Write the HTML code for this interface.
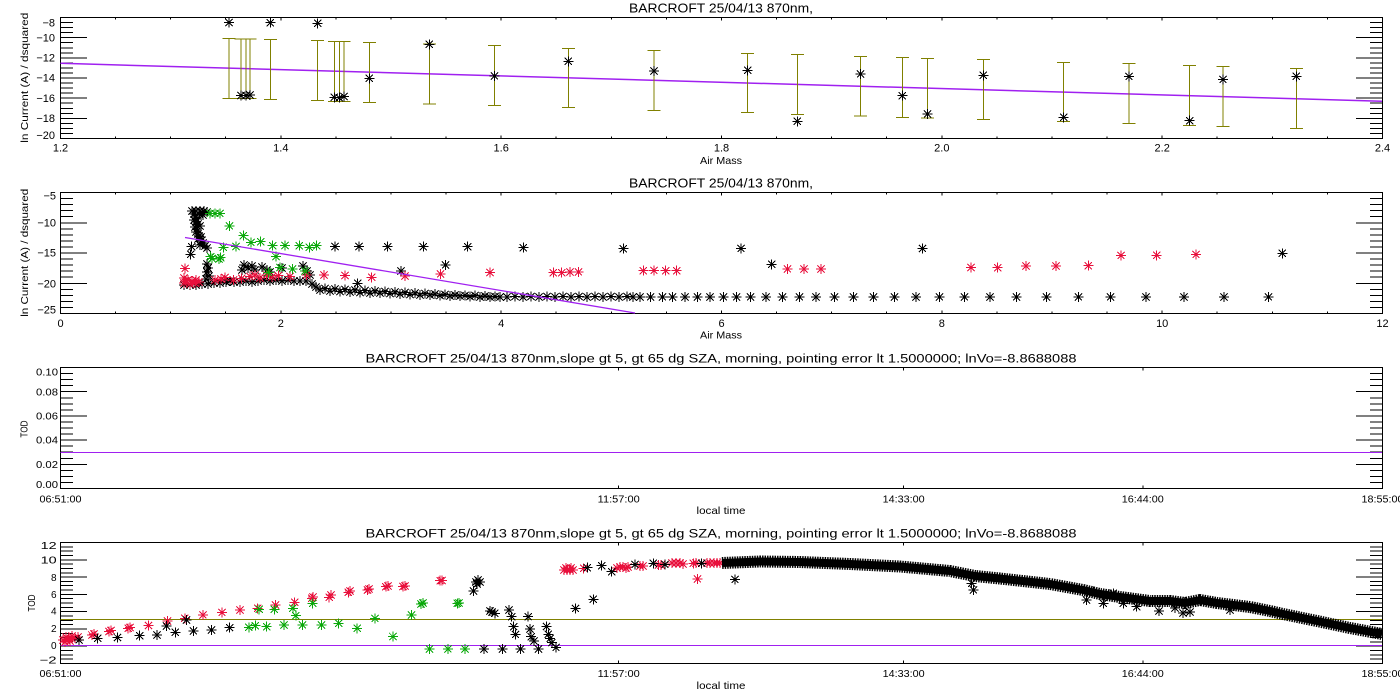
<!DOCTYPE html>
<html><head><meta charset="utf-8"><style>html,body{margin:0;padding:0;background:#fff;width:1400px;height:700px;overflow:hidden}svg{display:block}</style></head><body>
<svg width="1400" height="700" viewBox="0 0 1400 700" xmlns="http://www.w3.org/2000/svg" xmlns:xlink="http://www.w3.org/1999/xlink" font-family="'Liberation Sans', sans-serif">
<defs>
<path id="s" fill="none" d="M-5 0H5M0-5V5M-3.6-3.6L3.6 3.6M-3.6 3.6L3.6-3.6"/>
<path id="xt" d="M115.6 0.5v2M170.7 0.5v2M225.7 0.5v2M280.8 0.5v3M335.9 0.5v2M391 0.5v2M446.1 0.5v2M501.2 0.5v3M556.2 0.5v2M611.3 0.5v2M666.4 0.5v2M721.5 0.5v3M776.6 0.5v2M831.7 0.5v2M886.7 0.5v2M941.8 0.5v3M996.9 0.5v2M1052 0.5v2M1107.1 0.5v2M1162.2 0.5v3M1217.2 0.5v2M1272.3 0.5v2M1327.4 0.5v2M115.6 121.5v-2M170.7 121.5v-2M225.7 121.5v-2M280.8 121.5v-3M335.9 121.5v-2M391 121.5v-2M446.1 121.5v-2M501.2 121.5v-3M556.2 121.5v-2M611.3 121.5v-2M666.4 121.5v-2M721.5 121.5v-3M776.6 121.5v-2M831.7 121.5v-2M886.7 121.5v-2M941.8 121.5v-3M996.9 121.5v-2M1052 121.5v-2M1107.1 121.5v-2M1162.2 121.5v-3M1217.2 121.5v-2M1272.3 121.5v-2M1327.4 121.5v-2"/>
<path id="yt1" d="M60 22.5h13M60 27.6h13M60 32.6h13M60 37.7h27M60 42.7h13M60 47.8h13M60 52.8h13M60 57.8h27M60 62.9h13M60 67.9h13M60 73h13M60 78h27M60 83h13M60 88.1h13M60 93.1h13M60 98.2h27M60 103.2h13M60 108.3h13M60 113.3h13M60 118.3h27M60 123.4h13M60 128.4h13M60 133.5h13"/>
<path id="yt2" d="M60 198.6h13M60 204.6h13M60 210.7h13M60 216.7h13M60 222.8h27M60 228.8h13M60 234.9h13M60 240.9h13M60 247h13M60 253h27M60 259.1h13M60 265.1h13M60 271.2h13M60 277.2h13M60 283.3h27M60 289.3h13M60 295.4h13M60 301.4h13M60 307.5h13"/>
<path id="yt3" d="M60 373.6h13M60 379.6h13M60 385.7h13M60 391.7h27M60 397.8h13M60 403.8h13M60 409.9h13M60 415.9h27M60 422h13M60 428h13M60 434.1h13M60 440.1h27M60 446.2h13M60 452.2h13M60 458.3h13M60 464.3h27M60 470.4h13M60 476.4h13M60 482.5h13"/>
<path id="yt4" d="M60 546.8h13M60 551.1h13M60 555.5h13M60 559.8h27M60 564.1h13M60 568.4h13M60 572.8h13M60 577.1h27M60 581.4h13M60 585.7h13M60 590h13M60 594.4h27M60 598.7h13M60 603h13M60 607.3h13M60 611.6h27M60 616h13M60 620.3h13M60 624.6h13M60 628.9h27M60 633.3h13M60 637.6h13M60 641.9h13M60 646.2h27M60 650.5h13M60 654.9h13M60 659.2h13"/>
</defs>

<!-- AXES -->
<g stroke="#000" stroke-width="1" fill="none" shape-rendering="crispEdges">
<rect x="60.5" y="17.5" width="1322" height="121"/>
<rect x="60.5" y="192.5" width="1322" height="121"/>
<rect x="60.5" y="367.5" width="1322" height="121"/>
<rect x="60.5" y="542.5" width="1322" height="121"/>
<use href="#xt" y="17"/>
<use href="#xt" y="192"/>
<use href="#yt1"/><use href="#yt1" transform="translate(1443 0) scale(-1 1)"/>
<use href="#yt2"/><use href="#yt2" transform="translate(1443 0) scale(-1 1)"/>
<use href="#yt3"/><use href="#yt3" transform="translate(1443 0) scale(-1 1)"/>
<use href="#yt4"/><use href="#yt4" transform="translate(1443 0) scale(-1 1)"/>
<path d="M618.7 367.5v3M903.6 367.5v3M1142.8 367.5v3M618.7 488.5v-3M903.6 488.5v-3M1142.8 488.5v-3M618.7 542.5v3M903.6 542.5v3M1142.8 542.5v3M618.7 663.5v-3M903.6 663.5v-3M1142.8 663.5v-3"/>
</g>

<!-- TEXT -->
<g fill="#000">
<text x="721" y="12.3" font-size="12.5" text-anchor="middle" textLength="184" lengthAdjust="spacingAndGlyphs">BARCROFT 25/04/13 870nm,</text>
<text x="721" y="187.3" font-size="12.5" text-anchor="middle" textLength="184" lengthAdjust="spacingAndGlyphs">BARCROFT 25/04/13 870nm,</text>
<text x="721" y="362.5" font-size="11.5" text-anchor="middle" textLength="711" lengthAdjust="spacingAndGlyphs">BARCROFT 25/04/13 870nm,slope gt 5, gt 65 dg SZA, morning, pointing error lt 1.5000000; lnVo=-8.8688088</text>
<text x="721" y="537.5" font-size="11.5" text-anchor="middle" textLength="711" lengthAdjust="spacingAndGlyphs">BARCROFT 25/04/13 870nm,slope gt 5, gt 65 dg SZA, morning, pointing error lt 1.5000000; lnVo=-8.8688088</text>

<g font-size="11" text-anchor="end">
<text x="55" y="26.5">−8</text><text x="55" y="41.5">−10</text><text x="55" y="61.5">−12</text><text x="55" y="81.5">−14</text><text x="55" y="102">−16</text><text x="55" y="122">−18</text><text x="55" y="139">−20</text>
<text x="56" y="199.5">−5</text><text x="56" y="226.5">−10</text><text x="56" y="256.5">−15</text><text x="56" y="287.5">−20</text><text x="56" y="313.5">−25</text>
</g>
<g font-size="11" text-anchor="middle">
<text x="60.5" y="151.5">1.2</text><text x="280.8" y="151.5">1.4</text><text x="501.2" y="151.5">1.6</text><text x="721.5" y="151.5">1.8</text><text x="941.8" y="151.5">2.0</text><text x="1162.2" y="151.5">2.2</text><text x="1382.5" y="151.5">2.4</text>
<text x="60.5" y="327">0</text><text x="280.8" y="327">2</text><text x="501.2" y="327">4</text><text x="721.5" y="327">6</text><text x="941.8" y="327">8</text><text x="1162.2" y="327">10</text><text x="1382.5" y="327">12</text>
</g>
<g font-size="10.5" text-anchor="middle">
<text x="721" y="164" textLength="42" lengthAdjust="spacingAndGlyphs">Air Mass</text>
<text x="721" y="338.5" textLength="42" lengthAdjust="spacingAndGlyphs">Air Mass</text>
<text x="721" y="514" textLength="49" lengthAdjust="spacingAndGlyphs">local time</text>
<text x="721" y="689" textLength="49" lengthAdjust="spacingAndGlyphs">local time</text>
</g>
<g font-size="10" text-anchor="middle">
<text transform="translate(28 77.7) rotate(-90)" textLength="130" lengthAdjust="spacingAndGlyphs">ln Current (A) / dsquared</text>
<text transform="translate(28 252.8) rotate(-90)" textLength="128" lengthAdjust="spacingAndGlyphs">ln Current (A) / dsquared</text>
<text transform="translate(27.5 429) rotate(-90)" textLength="17" lengthAdjust="spacingAndGlyphs">TOD</text>
<text transform="translate(35 603) rotate(-90)" textLength="17" lengthAdjust="spacingAndGlyphs">TOD</text>
</g>
<g font-size="10" text-anchor="end">
<text x="58" y="375.5" textLength="22" lengthAdjust="spacingAndGlyphs">0.10</text>
<text x="58" y="395.5" textLength="22" lengthAdjust="spacingAndGlyphs">0.08</text>
<text x="58" y="419.5" textLength="22" lengthAdjust="spacingAndGlyphs">0.06</text>
<text x="58" y="443.5" textLength="22" lengthAdjust="spacingAndGlyphs">0.04</text>
<text x="58" y="468" textLength="22" lengthAdjust="spacingAndGlyphs">0.02</text>
<text x="58" y="488" textLength="22" lengthAdjust="spacingAndGlyphs">0.00</text>
<text x="56.6" y="549" textLength="16" lengthAdjust="spacingAndGlyphs">12</text>
<text x="56.6" y="563.5" textLength="16" lengthAdjust="spacingAndGlyphs">10</text>
<text x="56.6" y="581">8</text>
<text x="56.6" y="598">6</text>
<text x="56.6" y="614.5">4</text>
<text x="56.6" y="632">2</text>
<text x="56.6" y="649">0</text>
<text x="56.6" y="663.5" textLength="17" lengthAdjust="spacingAndGlyphs">−2</text>
</g>
<g font-size="10" text-anchor="middle">
<text x="60.5" y="502.5" textLength="42" lengthAdjust="spacingAndGlyphs">06:51:00</text>
<text x="618.7" y="502.5" textLength="42" lengthAdjust="spacingAndGlyphs">11:57:00</text>
<text x="903.6" y="502.5" textLength="42" lengthAdjust="spacingAndGlyphs">14:33:00</text>
<text x="1142.8" y="502.5" textLength="42" lengthAdjust="spacingAndGlyphs">16:44:00</text>
<text x="1382.5" y="502.5" textLength="42" lengthAdjust="spacingAndGlyphs">18:55:00</text>
<text x="60.5" y="677" textLength="42" lengthAdjust="spacingAndGlyphs">06:51:00</text>
<text x="618.7" y="677" textLength="42" lengthAdjust="spacingAndGlyphs">11:57:00</text>
<text x="903.6" y="677" textLength="42" lengthAdjust="spacingAndGlyphs">14:33:00</text>
<text x="1142.8" y="677" textLength="42" lengthAdjust="spacingAndGlyphs">16:44:00</text>
<text x="1382.5" y="677" textLength="42" lengthAdjust="spacingAndGlyphs">18:55:00</text>
</g>
</g>

<!-- PANEL 1 -->
<path d="M60.5 63.3L1382 101.2" stroke="#a020f0" stroke-width="1.5" fill="none"/>
<path stroke="#808000" stroke-width="1" fill="none" shape-rendering="crispEdges" d="M229 38.3V98.3M222.5 38.3h13M222.5 98.3h13M241 39V98.5M234.5 39h13M234.5 98.5h13M246 39V98.5M239.5 39h13M239.5 98.5h13M250 39V98.5M243.5 39h13M243.5 98.5h13M270.3 39.3V99.3M263.8 39.3h13M263.8 99.3h13M317.7 40.3V100.3M311.2 40.3h13M311.2 100.3h13M334.3 41.3V101.3M327.8 41.3h13M327.8 101.3h13M339.3 41.3V101.3M332.8 41.3h13M332.8 101.3h13M344 41.3V101.3M337.5 41.3h13M337.5 101.3h13M369.3 42.3V102.3M362.8 42.3h13M362.8 102.3h13M429.3 44V104M422.8 44h13M422.8 104h13M494.3 45.3V105.3M487.8 45.3h13M487.8 105.3h13M568.3 48.3V107.3M561.8 48.3h13M561.8 107.3h13M654 50.7V110.3M647.5 50.7h13M647.5 110.3h13M747.7 53.3V112.3M741.2 53.3h13M741.2 112.3h13M797.3 54.3V114.3M790.8 54.3h13M790.8 114.3h13M860.7 56.3V116M854.2 56.3h13M854.2 116h13M902.3 57.5V117.3M895.8 57.5h13M895.8 117.3h13M927.7 58.3V117.8M921.2 58.3h13M921.2 117.8h13M983.3 59.3V119.3M976.8 59.3h13M976.8 119.3h13M1063.7 62.3V121.3M1057.2 62.3h13M1057.2 121.3h13M1129 63.3V123.3M1122.5 63.3h13M1122.5 123.3h13M1189.7 65.3V125.3M1183.2 65.3h13M1183.2 125.3h13M1223 66.3V126.3M1216.5 66.3h13M1216.5 126.3h13M1296.3 68.3V128.3M1289.8 68.3h13M1289.8 128.3h13"/>
<g stroke="#000" stroke-width="1" fill="none" shape-rendering="crispEdges">
<use href="#s" x="229" y="22.7"/><use href="#s" x="241" y="95.7"/><use href="#s" x="246" y="95.7"/><use href="#s" x="250" y="95"/><use href="#s" x="270.3" y="22.7"/><use href="#s" x="317.7" y="23.3"/><use href="#s" x="334.3" y="97.3"/><use href="#s" x="339.3" y="97.7"/><use href="#s" x="344" y="96.7"/><use href="#s" x="369.3" y="78.3"/><use href="#s" x="429.3" y="44.3"/><use href="#s" x="494.3" y="76"/><use href="#s" x="568.3" y="61.3"/><use href="#s" x="654" y="71"/><use href="#s" x="747.7" y="70.3"/><use href="#s" x="797.3" y="121.3"/><use href="#s" x="860.7" y="74"/><use href="#s" x="902.3" y="95.7"/><use href="#s" x="927.7" y="114"/><use href="#s" x="983.3" y="75.3"/><use href="#s" x="1063.7" y="117.3"/><use href="#s" x="1129" y="76.3"/><use href="#s" x="1189.7" y="120.7"/><use href="#s" x="1223" y="79.3"/><use href="#s" x="1296.3" y="76.3"/>
</g>

<!-- PANEL 2 -->
<g stroke="#000" stroke-width="1" fill="none" shape-rendering="crispEdges">
<use href="#s" x="192" y="211"/><use href="#s" x="196" y="211"/><use href="#s" x="200" y="211"/><use href="#s" x="204" y="211"/><use href="#s" x="207" y="212"/><use href="#s" x="194" y="214"/><use href="#s" x="199" y="214"/><use href="#s" x="203" y="215"/><use href="#s" x="195" y="217"/><use href="#s" x="197" y="219"/><use href="#s" x="194" y="220"/><use href="#s" x="196" y="222"/><use href="#s" x="198" y="224"/><use href="#s" x="200" y="226"/><use href="#s" x="195" y="227"/><use href="#s" x="197" y="229"/><use href="#s" x="196" y="232"/><use href="#s" x="198" y="234"/><use href="#s" x="199" y="236"/><use href="#s" x="201" y="237"/><use href="#s" x="198" y="239"/><use href="#s" x="201" y="241"/><use href="#s" x="203" y="243"/><use href="#s" x="200" y="245"/><use href="#s" x="205" y="246"/><use href="#s" x="207" y="248"/>
<use href="#s" x="191.7" y="246.7"/><use href="#s" x="190.7" y="254.3"/>
<use href="#s" x="207" y="264"/><use href="#s" x="208" y="268"/><use href="#s" x="207" y="272"/><use href="#s" x="209" y="276"/><use href="#s" x="206" y="279"/>
<use href="#s" x="184" y="285"/><use href="#s" x="190" y="285"/><use href="#s" x="196" y="285"/><use href="#s" x="202" y="284"/><use href="#s" x="208" y="284"/><use href="#s" x="214" y="283"/><use href="#s" x="220" y="283"/><use href="#s" x="226" y="282"/><use href="#s" x="230" y="281"/>
<use href="#s" x="244" y="265"/><use href="#s" x="248" y="268"/><use href="#s" x="252" y="266"/><use href="#s" x="255" y="270"/><use href="#s" x="242" y="270"/><use href="#s" x="262" y="267"/><use href="#s" x="267" y="270"/><use href="#s" x="270" y="272"/><use href="#s" x="282" y="268"/><use href="#s" x="303" y="266"/><use href="#s" x="307" y="271"/><use href="#s" x="310" y="275"/>
<use href="#s" x="234" y="282"/><use href="#s" x="240" y="282"/><use href="#s" x="246" y="281"/><use href="#s" x="252" y="282"/><use href="#s" x="258" y="281"/><use href="#s" x="264" y="280"/><use href="#s" x="270" y="281"/><use href="#s" x="276" y="280"/><use href="#s" x="282" y="281"/><use href="#s" x="288" y="280"/><use href="#s" x="294" y="281"/><use href="#s" x="300" y="281"/><use href="#s" x="306" y="281"/><use href="#s" x="312" y="284"/>
<use href="#s" x="316" y="287"/><use href="#s" x="320" y="290"/><use href="#s" x="325" y="288.5"/><use href="#s" x="330" y="291"/><use href="#s" x="335" y="289"/><use href="#s" x="340" y="291.5"/><use href="#s" x="345" y="289.5"/><use href="#s" x="350" y="292"/><use href="#s" x="355" y="290"/><use href="#s" x="360" y="292.5"/><use href="#s" x="365" y="290.5"/><use href="#s" x="370" y="293"/><use href="#s" x="375" y="291"/><use href="#s" x="380" y="293"/><use href="#s" x="385" y="291.5"/><use href="#s" x="390" y="293.5"/><use href="#s" x="395" y="292"/><use href="#s" x="400" y="294"/><use href="#s" x="405" y="292.5"/><use href="#s" x="410" y="294.5"/><use href="#s" x="415" y="293"/><use href="#s" x="420" y="295"/><use href="#s" x="425" y="293.5"/><use href="#s" x="430" y="295"/><use href="#s" x="435" y="294"/><use href="#s" x="440" y="295.5"/><use href="#s" x="445" y="294.5"/><use href="#s" x="450" y="296"/><use href="#s" x="455" y="295"/><use href="#s" x="460" y="296"/><use href="#s" x="465" y="295.5"/><use href="#s" x="470" y="296.5"/><use href="#s" x="475" y="295.5"/><use href="#s" x="480" y="297"/><use href="#s" x="485" y="296"/><use href="#s" x="490" y="297"/><use href="#s" x="495" y="296.5"/><use href="#s" x="500" y="297"/>
<use href="#s" x="507" y="297"/><use href="#s" x="515" y="296.5"/><use href="#s" x="523" y="297"/><use href="#s" x="531" y="296.5"/><use href="#s" x="539" y="297"/><use href="#s" x="547" y="296.5"/><use href="#s" x="555" y="297"/><use href="#s" x="563" y="296.5"/><use href="#s" x="571" y="297"/><use href="#s" x="579" y="296.5"/><use href="#s" x="587" y="297"/><use href="#s" x="595" y="296.5"/><use href="#s" x="603" y="297"/><use href="#s" x="611" y="296.5"/><use href="#s" x="619" y="297"/><use href="#s" x="627" y="296.5"/><use href="#s" x="633" y="297"/>
<use href="#s" x="640" y="297"/><use href="#s" x="650.7" y="297"/><use href="#s" x="662.3" y="297"/><use href="#s" x="672.7" y="297"/><use href="#s" x="685" y="297"/><use href="#s" x="697.3" y="297"/><use href="#s" x="710" y="297"/><use href="#s" x="723.3" y="297"/><use href="#s" x="736.7" y="297"/><use href="#s" x="750.7" y="297"/><use href="#s" x="766" y="297"/><use href="#s" x="782.3" y="297"/><use href="#s" x="799.3" y="297"/><use href="#s" x="816" y="297"/><use href="#s" x="834.3" y="297"/><use href="#s" x="853.3" y="297"/><use href="#s" x="873.3" y="297"/><use href="#s" x="894.3" y="297"/><use href="#s" x="916" y="297"/><use href="#s" x="939.3" y="297"/><use href="#s" x="964.3" y="297"/><use href="#s" x="990" y="297"/><use href="#s" x="1016.7" y="297"/><use href="#s" x="1046.7" y="297"/><use href="#s" x="1078.3" y="297"/><use href="#s" x="1110.7" y="297"/><use href="#s" x="1146" y="297"/><use href="#s" x="1184" y="297"/><use href="#s" x="1224" y="297"/><use href="#s" x="1268.3" y="297"/>
<use href="#s" x="335" y="246.7"/><use href="#s" x="359" y="246.7"/><use href="#s" x="387.7" y="246.7"/><use href="#s" x="423.3" y="246.7"/><use href="#s" x="467.7" y="246.7"/><use href="#s" x="523.3" y="247.7"/><use href="#s" x="623.3" y="248.7"/><use href="#s" x="741" y="248.3"/><use href="#s" x="922.3" y="248.5"/><use href="#s" x="1282.3" y="253.3"/>
<use href="#s" x="401" y="271"/><use href="#s" x="445.7" y="265"/><use href="#s" x="771.7" y="264.3"/><use href="#s" x="357.7" y="283.3"/>
</g>
<g stroke="#e8103c" stroke-width="1" fill="none" shape-rendering="crispEdges">
<use href="#s" x="185" y="268.3"/><use href="#s" x="184" y="278"/><use href="#s" x="188" y="280"/><use href="#s" x="192" y="281"/><use href="#s" x="196" y="280"/><use href="#s" x="184" y="283"/><use href="#s" x="190" y="284"/><use href="#s" x="195" y="283"/><use href="#s" x="186" y="281"/><use href="#s" x="199" y="282"/>
<use href="#s" x="215" y="280"/><use href="#s" x="221" y="279"/><use href="#s" x="225" y="277.7"/><use href="#s" x="233.3" y="280"/><use href="#s" x="241.7" y="278.3"/><use href="#s" x="250" y="276.7"/><use href="#s" x="255" y="275"/><use href="#s" x="260" y="278"/><use href="#s" x="266.7" y="275"/><use href="#s" x="272" y="277"/><use href="#s" x="278.3" y="275.7"/><use href="#s" x="290" y="276.7"/><use href="#s" x="306.7" y="275"/><use href="#s" x="324" y="275"/><use href="#s" x="345" y="275.7"/><use href="#s" x="371.7" y="277.3"/><use href="#s" x="405" y="276"/><use href="#s" x="440.7" y="274"/><use href="#s" x="490" y="272.7"/>
<use href="#s" x="553.3" y="272.7"/><use href="#s" x="561.7" y="272.7"/><use href="#s" x="570" y="272"/><use href="#s" x="578.3" y="272"/><use href="#s" x="643.3" y="270.7"/><use href="#s" x="654" y="270.3"/><use href="#s" x="665.7" y="270.7"/><use href="#s" x="676.7" y="270.7"/><use href="#s" x="787.3" y="269"/><use href="#s" x="804" y="269"/><use href="#s" x="821" y="269"/><use href="#s" x="971" y="267.7"/><use href="#s" x="997.7" y="267.7"/><use href="#s" x="1026" y="266"/><use href="#s" x="1056" y="266"/><use href="#s" x="1088.3" y="265.7"/><use href="#s" x="1121" y="255.3"/><use href="#s" x="1156.7" y="255.3"/><use href="#s" x="1196" y="254.3"/>
</g>
<g stroke="#0aa80a" stroke-width="1" fill="none" shape-rendering="crispEdges">
<use href="#s" x="210" y="213.3"/><use href="#s" x="215" y="213.3"/><use href="#s" x="220" y="213.3"/><use href="#s" x="229.3" y="226"/><use href="#s" x="243.3" y="235.7"/><use href="#s" x="223.3" y="247.3"/><use href="#s" x="236" y="246.7"/><use href="#s" x="251" y="242.3"/><use href="#s" x="260.7" y="241.7"/><use href="#s" x="272.7" y="245.7"/><use href="#s" x="285" y="245.7"/><use href="#s" x="299.3" y="245.7"/><use href="#s" x="309.3" y="247.3"/><use href="#s" x="316.7" y="245.7"/><use href="#s" x="210.7" y="256.7"/><use href="#s" x="212" y="258.5"/><use href="#s" x="220.7" y="257.7"/><use href="#s" x="219" y="259"/><use href="#s" x="276" y="256.7"/><use href="#s" x="280" y="267.7"/><use href="#s" x="292.7" y="269"/><use href="#s" x="305" y="271"/><use href="#s" x="268.3" y="272.3"/>
</g>
<path d="M185 237.5L635 313" stroke="#a020f0" stroke-width="1.3" fill="none"/>

<!-- PANEL 3 -->
<path d="M60.5 452.5H1382" stroke="#a020f0" stroke-width="1.3" fill="none" shape-rendering="crispEdges"/>

<!-- PANEL 4 -->
<path d="M60.5 619.5H1382" stroke="#808000" stroke-width="1.3" fill="none" shape-rendering="crispEdges"/>
<path d="M60.5 645.5H1382" stroke="#a020f0" stroke-width="1.3" fill="none" shape-rendering="crispEdges"/>
<g stroke="#e8103c" stroke-width="1" fill="none" shape-rendering="crispEdges">
<use href="#s" x="63" y="640"/><use href="#s" x="66" y="637"/><use href="#s" x="69" y="639"/><use href="#s" x="72" y="636"/><use href="#s" x="75" y="638"/><use href="#s" x="78" y="637"/><use href="#s" x="65" y="642"/><use href="#s" x="70" y="641"/>
<use href="#s" x="91.8" y="635"/><use href="#s" x="94" y="634"/><use href="#s" x="109" y="631.7"/><use href="#s" x="111" y="630.5"/><use href="#s" x="128.2" y="628.3"/><use href="#s" x="130" y="627.5"/><use href="#s" x="148.5" y="625.7"/><use href="#s" x="167.6" y="621"/><use href="#s" x="184.8" y="618.3"/><use href="#s" x="202.8" y="615"/><use href="#s" x="222" y="612.3"/><use href="#s" x="240" y="610"/><use href="#s" x="257.6" y="608.3"/><use href="#s" x="275.5" y="605"/><use href="#s" x="294.7" y="602.3"/><use href="#s" x="311.9" y="598.3"/><use href="#s" x="313" y="597"/><use href="#s" x="329.1" y="597.3"/><use href="#s" x="331" y="595"/><use href="#s" x="348.3" y="592.3"/><use href="#s" x="350" y="591"/><use href="#s" x="367.4" y="590"/><use href="#s" x="369" y="589"/><use href="#s" x="385.8" y="586.7"/><use href="#s" x="388" y="586"/><use href="#s" x="403" y="586.7"/><use href="#s" x="405" y="586"/><use href="#s" x="440.1" y="580.7"/><use href="#s" x="442" y="580.7"/>
<use href="#s" x="564" y="570"/><use href="#s" x="567" y="570"/><use href="#s" x="570" y="570"/><use href="#s" x="573" y="570"/><use href="#s" x="566" y="568"/><use href="#s" x="571" y="568"/><use href="#s" x="583.6" y="568.3"/><use href="#s" x="617" y="568"/><use href="#s" x="620" y="567"/><use href="#s" x="623" y="567"/><use href="#s" x="626" y="568"/><use href="#s" x="628" y="567"/><use href="#s" x="640" y="566"/><use href="#s" x="643" y="566"/><use href="#s" x="658.3" y="565"/><use href="#s" x="661" y="565"/><use href="#s" x="672" y="563"/><use href="#s" x="676" y="563"/><use href="#s" x="680" y="563"/><use href="#s" x="683" y="564"/><use href="#s" x="693.3" y="563.3"/><use href="#s" x="696" y="563"/><use href="#s" x="707" y="563"/><use href="#s" x="710" y="563"/><use href="#s" x="714" y="563"/><use href="#s" x="717" y="563"/><use href="#s" x="720" y="563"/><use href="#s" x="697.3" y="579"/>
</g>
<g stroke="#0aa80a" stroke-width="1" fill="none" shape-rendering="crispEdges">
<use href="#s" x="248.8" y="627.3"/><use href="#s" x="255.3" y="625.7"/><use href="#s" x="266.7" y="626.7"/><use href="#s" x="259.1" y="609.3"/><use href="#s" x="274.4" y="609.3"/><use href="#s" x="284" y="625"/><use href="#s" x="292.8" y="608.3"/><use href="#s" x="295.8" y="615.7"/><use href="#s" x="302.3" y="625"/><use href="#s" x="312.7" y="603.3"/><use href="#s" x="321.5" y="625"/><use href="#s" x="338.7" y="623.3"/><use href="#s" x="357.1" y="628.3"/><use href="#s" x="375" y="618.3"/><use href="#s" x="393" y="636.7"/><use href="#s" x="411.4" y="615"/><use href="#s" x="421" y="604"/><use href="#s" x="423" y="603"/><use href="#s" x="429.4" y="649"/><use href="#s" x="447.8" y="649"/><use href="#s" x="457.3" y="603.3"/><use href="#s" x="459" y="603"/><use href="#s" x="465" y="649"/>
</g>
<g stroke="#000" stroke-width="1" fill="none" shape-rendering="crispEdges">
<use href="#s" x="79.2" y="640"/><use href="#s" x="97.6" y="638.3"/><use href="#s" x="117.5" y="637.7"/><use href="#s" x="139.7" y="635.7"/><use href="#s" x="156.9" y="635"/><use href="#s" x="166.5" y="626"/><use href="#s" x="175.3" y="632.3"/><use href="#s" x="186.4" y="620"/><use href="#s" x="193.3" y="631"/><use href="#s" x="211.6" y="630"/><use href="#s" x="229.6" y="627.7"/>
<use href="#s" x="473.4" y="591"/><use href="#s" x="476" y="582"/><use href="#s" x="478" y="580"/><use href="#s" x="480" y="582"/><use href="#s" x="477" y="584"/><use href="#s" x="484.1" y="649"/><use href="#s" x="490" y="611"/><use href="#s" x="492" y="612"/><use href="#s" x="494.8" y="613.3"/><use href="#s" x="502.5" y="649"/><use href="#s" x="509" y="610"/><use href="#s" x="511.7" y="616.7"/><use href="#s" x="513.6" y="626.7"/><use href="#s" x="515.5" y="634.3"/><use href="#s" x="520.5" y="649"/><use href="#s" x="528.1" y="616.7"/><use href="#s" x="530" y="629"/><use href="#s" x="531.2" y="636.7"/><use href="#s" x="533.9" y="641"/><use href="#s" x="538.5" y="649"/><use href="#s" x="546.5" y="626.7"/><use href="#s" x="548.4" y="634.3"/><use href="#s" x="550" y="638.3"/><use href="#s" x="551.9" y="642.7"/><use href="#s" x="556" y="647.3"/>
<use href="#s" x="575.5" y="608.3"/><use href="#s" x="593.3" y="599.3"/><use href="#s" x="587.3" y="567.7"/><use href="#s" x="601.7" y="565.7"/><use href="#s" x="611.7" y="571.7"/><use href="#s" x="635" y="564.3"/><use href="#s" x="653.3" y="563.3"/><use href="#s" x="665" y="564.3"/><use href="#s" x="701.7" y="563.3"/><use href="#s" x="735" y="579.3"/>
<use href="#s" x="971.7" y="583.3"/><use href="#s" x="973.3" y="590"/><use href="#s" x="1086.7" y="600"/><use href="#s" x="1093.3" y="591.7"/><use href="#s" x="1103.3" y="603.3"/><use href="#s" x="1113.3" y="593.3"/><use href="#s" x="1123.3" y="603.3"/><use href="#s" x="1136.7" y="606.7"/><use href="#s" x="1159" y="611"/><use href="#s" x="1175" y="608"/><use href="#s" x="1183" y="613"/><use href="#s" x="1190" y="612"/><use href="#s" x="1230" y="610"/>
</g>
<polyline fill="none" stroke="#000" stroke-width="8" stroke-linejoin="round" points="722,563 760,561.5 800,562 850,564 900,566.5 950,571 975,576 1000,578.5 1050,584 1083,590 1100,594 1120,597 1150,601 1170,601 1185,603 1200,600 1217,603 1250,607 1270,611 1283,614 1317,621 1350,628 1382,634"/>
<polyline fill="none" stroke="#000" stroke-width="12" stroke-dasharray="1.5 1" stroke-linejoin="round" points="722,563 760,561.5 800,562 850,564 900,566.5 950,571 975,576 1000,578.5 1050,584 1083,590 1100,594 1120,597 1150,601 1170,601 1185,603 1200,600 1217,603 1250,607 1270,611 1283,614 1317,621 1350,628 1382,634"/>
</svg>
</body></html>
